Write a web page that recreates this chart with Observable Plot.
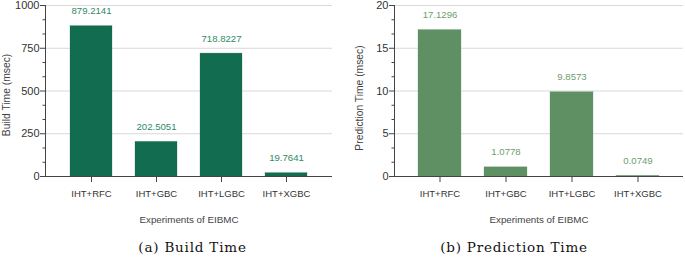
<!DOCTYPE html>
<html>
<head>
<meta charset="utf-8">
<script src="https://cdn.jsdelivr.net/npm/d3@7"></script>
<script src="https://cdn.jsdelivr.net/npm/@observablehq/plot@0.6"></script>
<style>
  body { margin: 0; background: #fff; }
  #wrap { position: relative; width: 685px; height: 258px; overflow: hidden; }
  .panel { position: absolute; top: 0; width: 342px; }
  .caption { position: absolute; top: 239px; width: 100%; text-align: center;
             font-family: "DejaVu Serif", serif; font-size: 13.5px; letter-spacing: 0.8px; color: #111; }
</style>
</head>
<body>
<div id="wrap">
  <div class="panel" id="pa" style="left:0px"></div>
  <div class="panel" id="pb" style="left:343px"></div>
</div>
<script>
const experiments = ["IHT+RFC", "IHT+GBC", "IHT+LGBC", "IHT+XGBC"];
const buildTime = [879.2141, 202.5051, 718.8227, 19.7641];
const predictionTime = [17.1296, 1.0778, 9.8573, 0.0749];
const buildLabels = ["879.2141", "202.5051", "718.8227", "19.7641"];
const predLabels = ["17.1296", "1.0778", "9.8573", "0.0749"];
const buildTicks = [0, 250, 500, 750, 1000];
const predTicks = [0, 5, 10, 15, 20];
const xTitle = "Experiments of EIBMC";

function minorOf(ticks) {
  const out = [];
  for (let i = 0; i < ticks.length - 1; i++) {
    const s = (ticks[i + 1] - ticks[i]) / 3;
    out.push(ticks[i] + s, ticks[i] + 2 * s);
  }
  return out;
}

function chart({values, labels, ticks, yTitle, fill, labelColor, marginLeft, marginRight, yTitleDx, yTitleDy}) {
  const data = experiments.map((e, i) => ({e, v: values[i], t: labels[i]}));
  return Plot.plot({
    width: 342,
    height: 230,
    marginLeft, marginRight,
    marginTop: 5,
    marginBottom: 54,
    style: {fontFamily: "'Liberation Sans', Arial, sans-serif", fontSize: "10px", color: "#333", background: "transparent", overflow: "visible"},
    x: {domain: experiments, padding: 0.35, label: null},
    y: {domain: [ticks[0], ticks[ticks.length - 1]], label: null},
    marks: [
      Plot.gridY(ticks.slice(1), {stroke: "#d9d9d9", strokeOpacity: 1, strokeWidth: 1}),
      Plot.barY(data, {x: "e", y: "v", fill, stroke: fill, strokeOpacity: 0.5, strokeWidth: 0.5}),
      Plot.text(data, {x: "e", y: "v", text: "t", dy: -15, fill: labelColor, fontSize: 9.6}),
      Plot.ruleY([0], {stroke: "#444"}),
      Plot.frame({anchor: "left", stroke: "#444"}),
      Plot.axisY({ticks, tickSize: 5, tickPadding: 1, fontSize: 11, tickFormat: d => String(d), stroke: "#444", fill: "#333", label: null}),
      Plot.axisY({ticks: minorOf(ticks), tickSize: 2.5, text: null, stroke: "#444", label: null}),
      Plot.axisX({tickSize: 6, tickPadding: 8, fontSize: 9.5, stroke: "#444", fill: "#333", label: null}),
      Plot.text([xTitle], {frameAnchor: "bottom", dy: 46, fill: "#444", fontSize: 9.8}),
      Plot.text([yTitle], {frameAnchor: "left", textAnchor: "middle", lineAnchor: "middle", rotate: -90, dx: yTitleDx, dy: yTitleDy, fill: "#444", fontSize: 10.3})
    ]
  });
}

const a = chart({values: buildTime, labels: buildLabels, ticks: buildTicks, yTitle: "Build Time (msec)",
  fill: "#126c50", labelColor: "#2f8a66", marginLeft: 45, marginRight: 10, yTitleDx: -39, yTitleDy: 4});
const b = chart({values: predictionTime, labels: predLabels, ticks: predTicks, yTitle: "Prediction Time (msec)",
  fill: "#5e9063", labelColor: "#6c9d70", marginLeft: 51, marginRight: 2, yTitleDx: -35, yTitleDy: 7});

const pa = document.getElementById("pa");
const pb = document.getElementById("pb");
pa.appendChild(a);
pb.appendChild(b);
const ca = document.createElement("div"); ca.className = "caption"; ca.style.left = "25px"; ca.style.width = "335px"; ca.textContent = "(a) Build Time";
const cb = document.createElement("div"); cb.className = "caption"; cb.textContent = "(b) Prediction Time";
pa.appendChild(ca); pb.appendChild(cb);
</script>
</body>
</html>
